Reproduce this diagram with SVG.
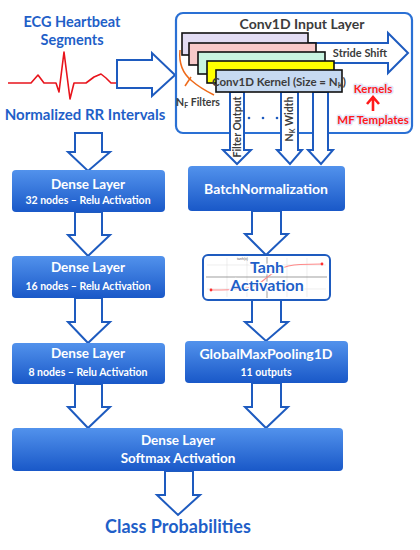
<svg xmlns="http://www.w3.org/2000/svg" width="420" height="550" viewBox="0 0 420 550">
<defs>
<linearGradient id="bg" x1="0" y1="0" x2="0" y2="1">
<stop offset="0" stop-color="#5292ec"/>
<stop offset="1" stop-color="#1958c8"/>
</linearGradient>
</defs>
<style>
.t{font-family:Lato,"Liberation Sans",sans-serif;font-weight:bold;text-anchor:middle}
.blue{fill:#1f5fc8}
.wt{fill:#ffffff}
.dk{fill:#3c3c3c}
.red{fill:#ff1a1a;stroke:#dfe7fa;stroke-width:3;paint-order:stroke;stroke-linejoin:round}
.arr{fill:#ffffff;stroke:#1e5bbf;stroke-width:2;stroke-linejoin:miter}
.box{fill:url(#bg)}
.kb{stroke:#111;stroke-width:1.6}
.grid{stroke:#e2e2e2;stroke-width:0.6}
</style>
<rect width="420" height="550" fill="#ffffff"/>

<g id="ecg-input">
<text class="t blue" x="72" y="27" font-size="14.5">ECG Heartbeat</text>
<text class="t blue" x="72" y="45" font-size="14.5">Segments</text>
<polyline fill="none" stroke="#e8141c" stroke-width="1.6" stroke-linejoin="round" points="8,83 31,83 38,75 44,83 56,83 59,92 64,52 70,99 74,83 86,83 94,77 101,74 106,78 111,83 117,83"/>
</g>

<g id="rr-input">
<text class="t blue" x="85" y="120" font-size="15">Normalized RR Intervals</text>
</g>

<g id="connectors">
<path class="arr" d="M117,60 L152,60 L152,53 L175,75 L152,96 L152,88 L117,88 Z"/>
<path class="arr" d="M75,133 L102,133 L102,152 L110,152 L88,171 L68,152 L75,152 Z"/>
<path class="arr" d="M75,212 L102,212 L102,235 L110,235 L88,256 L68,235 L75,235 Z"/>
<path class="arr" d="M75,298 L102,298 L102,322 L110,322 L88,343 L68,322 L75,322 Z"/>
<path class="arr" d="M75,384 L102,384 L102,407 L110,407 L88,428 L68,407 L75,407 Z"/>
<path class="arr" d="M252,211 L281,211 L281,234 L288,234 L266,255 L245,234 L252,234 Z"/>
<path class="arr" d="M252,300 L281,300 L281,322 L288,322 L266,341 L245,322 L252,322 Z"/>
<path class="arr" d="M252,383 L281,383 L281,407 L288,407 L266,428 L245,407 L252,407 Z"/>
<path class="arr" d="M165,471 L193,471 L193,495 L200,495 L178,515 L157,495 L165,495 Z"/>
</g>

<g id="conv1d-input-layer">
<rect x="176" y="13" width="236" height="120" rx="7" fill="#ffffff" stroke="#2a70d4" stroke-width="2.2"/>
<text class="t dk" x="302" y="29" font-size="14">Conv1D Input Layer</text>
<path class="arr" d="M300,43 L388,43 L388,33 L408,53 L388,73 L388,63 L300,63 Z"/>
<text class="t dk" x="360" y="57" font-size="11">Stride Shift</text>
<rect class="kb" x="182" y="33" width="126" height="22" fill="#e2dcf3"/>
<rect class="kb" x="189" y="43" width="127" height="22" fill="#f8c9c9"/>
<rect class="kb" x="198" y="52" width="127" height="22" fill="#c9f4e1"/>
<rect class="kb" x="207" y="61" width="127" height="22" fill="#ffff00"/>
<path d="M180,50 Q178,70 192,81 Q200,88 214,95" fill="none" stroke="#ee6a1a" stroke-width="1.5"/>
<line x1="185" y1="86" x2="191" y2="77" stroke="#ee6a1a" stroke-width="1.5"/>
<path class="arr" d="M230,92 L244,92 L244,150 L251,150 L237,164 L223,150 L230,150 Z"/>
<path class="arr" d="M281,92 L298,92 L298,150 L302,150 L290,164 L277,150 L281,150 Z"/>
<path class="arr" d="M313,92 L328,92 L328,150 L333,150 L321,164 L308,150 L313,150 Z"/>
<rect class="kb" x="216" y="70" width="126" height="22" fill="#c6d9f1"/>
<text class="t dk" x="279" y="86" font-size="11.5" fill="#333">Conv1D Kernel (Size = N<tspan font-size="7.5" dy="2">K</tspan><tspan dy="-2">)</tspan></text>
<text class="t dk" x="198" y="106" font-size="10.5">N<tspan font-size="7" dy="2">F</tspan><tspan dy="-2"> Filters</tspan></text>
<text class="t dk" font-size="10.5" transform="translate(241,127) rotate(-90)">Filter Output</text>
<text class="t dk" font-size="10.5" transform="translate(293,119) rotate(-90)">N<tspan font-size="7" dy="2">K</tspan><tspan dy="-2"> Width</tspan></text>
<circle cx="249" cy="118" r="1.3" fill="#1e5bbf"/>
<circle cx="263" cy="118" r="1.3" fill="#1e5bbf"/>
<circle cx="277" cy="118" r="1.3" fill="#1e5bbf"/>
<text class="t red" x="373" y="93" font-size="11.5">Kernels</text>
<path d="M373,111 L373,99 M367,104 L373,97 L379,104" fill="none" stroke="#ff1a1a" stroke-width="2.6"/>
<text class="t red" x="373" y="124" font-size="11.5">MF Templates</text>
</g>

<g id="dense-32">
<rect class="box" x="12" y="170" width="153" height="42" rx="4"/>
<text class="t wt" x="88" y="189" font-size="13.5">Dense Layer</text>
<text class="t wt" x="88" y="204" font-size="10.5">32 nodes – Relu Activation</text>
</g>
<g id="dense-16">
<rect class="box" x="12" y="256" width="153" height="42" rx="4"/>
<text class="t wt" x="88" y="272" font-size="13.5">Dense Layer</text>
<text class="t wt" x="88" y="290" font-size="10.5">16 nodes – Relu Activation</text>
</g>
<g id="dense-8">
<rect class="box" x="12" y="343" width="153" height="41" rx="4"/>
<text class="t wt" x="88" y="358" font-size="13.5">Dense Layer</text>
<text class="t wt" x="88" y="376" font-size="10.5">8 nodes – Relu Activation</text>
</g>

<g id="batchnorm">
<rect class="box" x="188" y="166" width="157" height="45" rx="4"/>
<text class="t wt" x="266" y="194" font-size="14">BatchNormalization</text>
</g>

<g id="tanh">
<rect x="203" y="255" width="127" height="45" rx="5" fill="#ffffff" stroke="#1e5bbf" stroke-width="2"/>
<g class="grid">
<line x1="207" y1="265" x2="326" y2="265"/>
<line x1="207" y1="289" x2="326" y2="289"/>
<line x1="227" y1="258" x2="227" y2="297"/>
<line x1="247" y1="258" x2="247" y2="297"/>
<line x1="287" y1="258" x2="287" y2="297"/>
<line x1="307" y1="258" x2="307" y2="297"/>
</g>
<line x1="206" y1="277" x2="327" y2="277" stroke="#777" stroke-width="0.7"/>
<line x1="267" y1="257" x2="267" y2="298" stroke="#777" stroke-width="0.7"/>
<text x="248" y="260" font-family="Liberation Sans,sans-serif" font-size="3.5" fill="#555" text-anchor="end">tanh(x)</text>
<path d="M211,290 C240,290 250,289 260,283 C272,273 282,265 300,264.5 L322,264" fill="none" stroke="#ff8a8a" stroke-width="1.2"/>
<circle cx="211" cy="290" r="1.4" fill="#ff3030"/>
<circle cx="322" cy="264" r="1.4" fill="#ff3030"/>
<text class="t blue" x="267" y="273" font-size="16" stroke="#ffffff" stroke-width="2.5" paint-order="stroke">Tanh</text>
<text class="t blue" x="267" y="291" font-size="16" stroke="#ffffff" stroke-width="2.5" paint-order="stroke">Activation</text>
</g>

<g id="globalmaxpool">
<rect class="box" x="185" y="341" width="163" height="42" rx="4"/>
<text class="t wt" x="266" y="359" font-size="14">GlobalMaxPooling1D</text>
<text class="t wt" x="266" y="376" font-size="10.5">11 outputs</text>
</g>

<g id="dense-softmax">
<rect class="box" x="12" y="428" width="331" height="43" rx="4"/>
<text class="t wt" x="178" y="445" font-size="13.5">Dense Layer</text>
<text class="t wt" x="178" y="463" font-size="13.5">Softmax Activation</text>
</g>

<g id="class-probabilities">
<text class="t blue" x="178" y="533" font-size="18">Class Probabilities</text>
</g>
</svg>
